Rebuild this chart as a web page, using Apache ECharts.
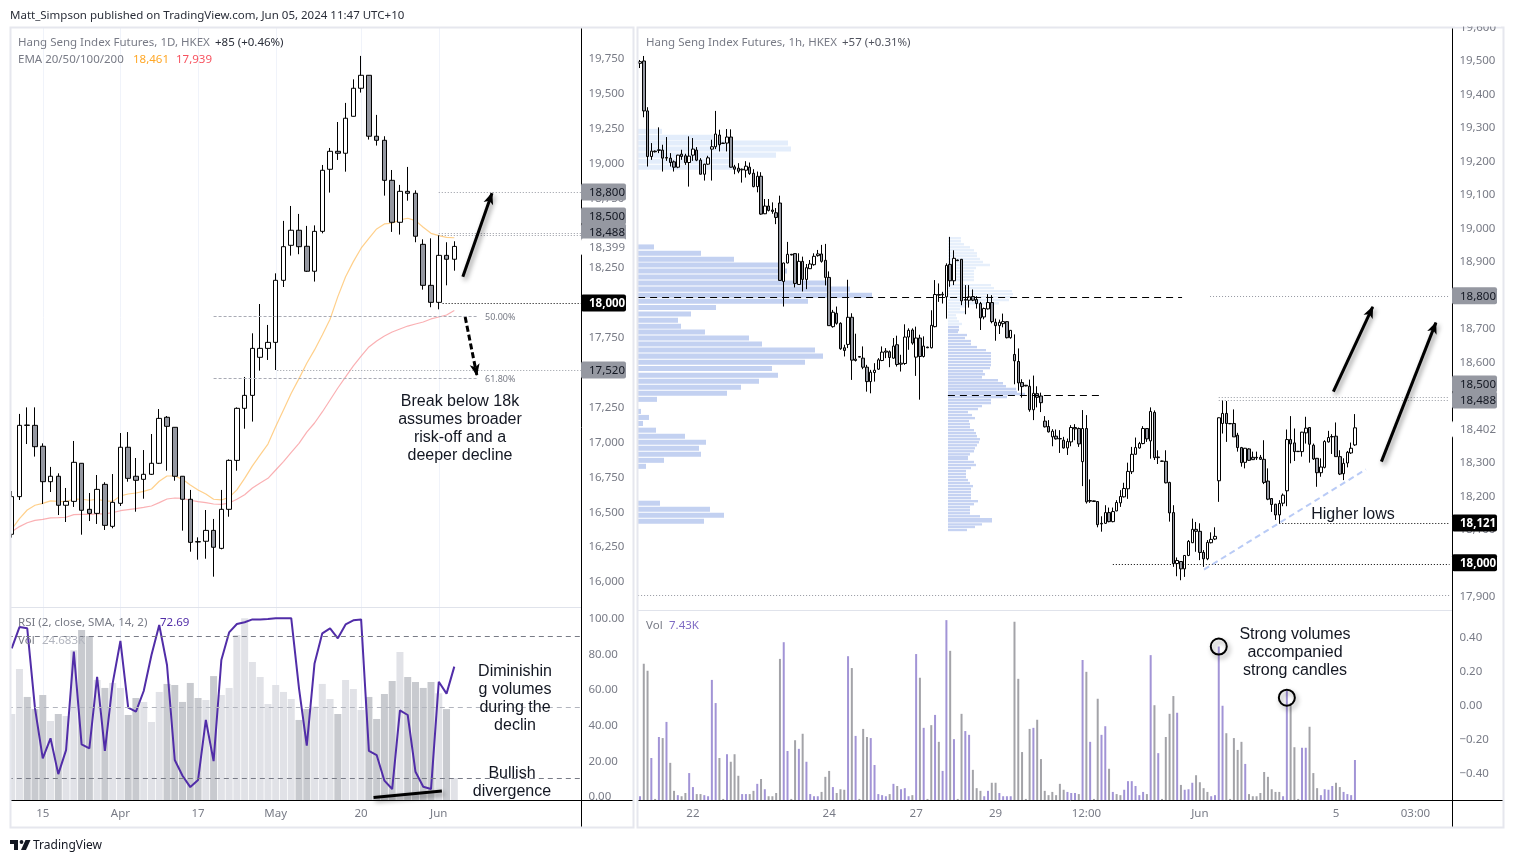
<!DOCTYPE html>
<html>
<head>
<meta charset="utf-8">
<title>Hang Seng Index Futures</title>
<script src="https://cdn.jsdelivr.net/npm/echarts@6/dist/echarts.min.js"></script>
<style>
  html, body { margin: 0; padding: 0; background: #fff; }
  #chart { width: 1514px; height: 863px; }
</style>
</head>
<body>
<div id="chart"></div>
<script>
// daily candles: open, close, low, high
const dailyCandles = [
  [16335,16605,16311,16645],[16605,17116,16581,17198],[17118,17116,16982,17245],[17116,16963,16892,17245],
  [16966,16712,16552,16987],[16712,16751,16638,16818],[16751,16543,16473,16772],[16543,16571,16423,16667],
  [16571,16851,16531,17004],[16844,16507,16332,16845],[16514,16485,16430,16631],[16485,16657,16409,16760],
  [16693,16399,16366,16708],[16392,16564,16378,16767],[16557,16959,16538,17061],[16959,16736,16712,17068],
  [16751,16722,16497,16882],[16729,16765,16590,16939],[16765,16844,16760,17054],[16844,17166,16839,17233],
  [17174,17109,16791,17183],[17102,16751,16719,17103],[16751,16586,16361,16752],[16586,16277,16210,16653],
  [16282,16280,16153,16313],[16285,16363,16160,16509],[16363,16242,16031,16445],[16234,16514,16227,16653],
  [16514,16865,16461,16872],[16865,17238,16791,17245],[17238,17331,17092,17463],[17331,17668,17143,17776],
  [17604,17668,17508,17986],[17668,17711,17585,17836],[17711,18156,17513,18206],[18156,18397,18108,18582],
  [18407,18515,18333,18689],[18515,18397,18343,18632],[18400,18221,18216,18546],[18221,18507,18147,18550],
  [18507,18945,18493,18983],[18952,19081,18785,19105],[19081,19067,19019,19291],[19067,19318,18935,19428],
  [19332,19533,19330,19597],[19533,19626,19502,19765],[19626,19189,19165,19627],[19189,19160,19122,19342],
  [19160,18873,18763,19189],[18873,18572,18503,18947],[18572,18794,18484,18840],[18794,18780,18727,18969],
  [18780,18472,18429,18801],[18414,18120,18089,18450],[18120,17998,17963,18457],[17998,18335,17948,18479],
  [18335,18307,18120,18429],[18307,18399,18225,18436]
];
const dailyEma20 = [
  16371,16447,16509,16543,16557,16574,16571,16569,16588,16586,16579,16586,16574,16571,16610,16624,16631,16643,16660,
  16715,16753,16753,16729,16688,16653,16624,16586,16581,16600,16653,16736,16825,16904,16982,17107,17226,17346,17451,
  17561,17657,17764,17877,18039,18182,18290,18386,18457,18524,18560,18565,18589,18601,18584,18536,18493,18476,18464,18461
];
const dailyEma50 = [
  16354,16390,16418,16435,16442,16452,16454,16457,16476,16478,16478,16481,16481,16490,16504,16512,16519,16528,16538,
  16562,16588,16595,16593,16579,16569,16562,16552,16550,16559,16586,16619,16667,16703,16736,16796,16856,16923,16987,
  17068,17133,17212,17298,17384,17463,17542,17613,17678,17721,17757,17785,17807,17828,17843,17857,17879,17893,17907,17939
];
const dailyRsi = [
  82.9,94.9,94.2,49.2,21.1,32.4,12.3,25.8,81.1,29.0,26.8,67.0,25.4,63.3,87.1,49.6,47.4,59.0,79.2,96.1,
  73.6,20.2,11.4,5.0,9.0,42.7,19.6,76.4,91.9,96.6,97.6,99.2,99.2,99.4,99.9,99.9,99.9,60.5,28.3,74.5,
  91.4,94.2,88.6,96.4,98.7,99.2,25.3,23.0,8.6,3.9,48.1,45.5,13.6,5.2,3.9,64.2,57.5,72.69
];
// daily volume, K
const dailyVolume = [
  96.5,147,115.6,102,117.8,88.6,96.5,94.2,168,190.7,184,134.6,125.7,131.3,125.7,95.4,114.4,110,87.5,121.2,
  130.2,129,110,131.3,114.4,112.2,139,117.8,125.7,185,204,154.8,138,107.7,129,121.2,113.3,89.8,102,104.7,
  130.2,113.3,96.5,134.6,124.5,101,115.6,90.9,118.9,133.5,166,138,132.4,125.7,132.4,119.7,102,24.683
];
const dailyTickIndex = [4, 14, 24, 34, 45, 55];
const dailyTickLabels = ["15", "Apr", "17", "May", "20", "Jun"];
const dailyPriceTicks = [16000,16250,16500,16750,17000,17250,17500,17750,18000,18250,18500,18750,19000,19250,19500,19750];
const rsiTicks = [0, 20, 40, 60, 80, 100];

// hourly candles: open, close, low, high
const hourCandles = [
  [19490,19495,19476,19500],[19497,19348,19329,19512],[19348,19212,19182,19359],[19212,19228,19202,19252],[19228,19226,19224,19230],
  [19230,19232,19222,19299],[19231,19207,19167,19247],[19207,19209,19199,19270],[19207,19194,19182,19222],[19196,19180,19167,19200],
  [19180,19216,19177,19217],[19219,19212,19202,19232],[19214,19194,19187,19220],[19194,19213,19122,19272],[19216,19234,19199,19267],
  [19231,19201,19198,19240],[19201,19159,19159,19207],[19159,19189,19140,19190],[19189,19208,19187,19214],[19234,19241,19140,19262],
  [19241,19279,19234,19348],[19276,19247,19227,19292],[19252,19251,19250,19253],[19252,19270,19227,19294],[19270,19180,19179,19293],
  [19181,19174,19159,19187],[19177,19168,19162,19192],[19172,19174,19134,19176],[19171,19183,19149,19198],[19180,19161,19157,19194],
  [19162,19122,19120,19174],[19122,19153,19105,19167],[19153,19040,19038,19165],[19041,19064,19040,19085],[19064,19051,19048,19085],
  [19052,19048,19041,19075],[19044,19030,19010,19058],[19073,18842,18842,19095],[18839,18894,18764,18895],[18894,18920,18893,18957],
  [18920,18918,18917,18921],[18922,18833,18821,18923],[18830,18899,18829,18923],[18899,18845,18809,18913],[18845,18880,18816,18891],
  [18877,18891,18876,18903],[18889,18914,18886,18923],[18916,18921,18913,18933],[18921,18899,18895,18948],[18902,18851,18827,18951],
  [18851,18707,18707,18869],[18704,18747,18701,18754],[18744,18714,18710,18764],[18714,18638,18635,18717],[18641,18633,18615,18650],
  [18651,18732,18640,18844],[18732,18604,18545,18744],[18603,18607,18600,18683],[18615,18613,18612,18616],[18610,18583,18577,18645],
  [18583,18540,18510,18590],[18540,18568,18505,18575],[18567,18574,18540,18595],[18577,18605,18575,18610],[18603,18628,18601,18645],
  [18628,18631,18610,18640],[18629,18612,18583,18633],[18610,18646,18608,18670],[18650,18591,18585,18677],[18592,18595,18570,18620],
  [18594,18673,18590,18711],[18673,18693,18635,18699],[18694,18655,18650,18699],[18613,18670,18557,18704],[18670,18615,18486,18680],
  [18615,18646,18612,18675],[18643,18641,18640,18644],[18641,18708,18639,18753],[18704,18800,18702,18843],[18800,18798,18778,18833],
  [18799,18801,18773,18808],[18793,18887,18728,18893],[18890,18841,18823,18972],[18841,18908,18828,18932],[18903,18901,18900,18904],
  [18905,18781,18768,18906],[18783,18785,18741,18828],[18783,18793,18761,18828],[18794,18783,18780,18815],[18785,18773,18758,18795],
  [18773,18730,18694,18778],[18733,18758,18726,18761],[18757,18776,18755,18801],[18776,18719,18714,18798],[18717,18707,18662,18728],
  [18707,18717,18682,18725],[18713,18719,18702,18743],[18719,18671,18669,18720],[18671,18693,18668,18694],[18621,18602,18532,18681],
  [18600,18536,18513,18639],[18537,18525,18492,18547],[18529,18527,18526,18530],[18526,18456,18450,18546],[18456,18505,18425,18558],
  [18504,18493,18463,18526],[18497,18477,18449,18507],[18422,18405,18403,18437],[18406,18390,18388,18425],[18375,18392,18347,18398],
  [18377,18369,18367,18397],[18369,18370,18327,18395],[18365,18342,18340,18375],[18342,18361,18321,18370],[18360,18403,18347,18410],
  [18403,18399,18365,18413],[18400,18354,18345,18403],[18301,18400,18228,18455],[18400,18181,18176,18440],[18183,18185,18178,18248],
  [18184,18182,18181,18185],[18182,18113,18105,18183],[18115,18117,18092,18138],[18117,18149,18115,18171],[18149,18122,18120,18164],
  [18122,18152,18120,18164],[18154,18179,18153,18186],[18178,18197,18166,18216],[18196,18221,18194,18238],[18220,18272,18190,18298],
  [18271,18323,18264,18345],[18323,18343,18322,18373],[18342,18355,18340,18360],[18355,18400,18353,18407],[18400,18369,18360,18401],
  [18363,18451,18310,18463],[18448,18313,18306,18454],[18313,18315,18294,18335],[18303,18302,18301,18304],[18302,18238,18236,18335],
  [18239,18148,18122,18241],[18149,17997,17987,18171],[17997,18006,17959,18015],[18003,17981,17947,18004],[17981,18021,17957,18022],
  [18021,18063,18019,18067],[18059,18099,18058,18131],[18099,18093,18032,18121],[18093,18030,18007,18117],[18030,18011,17987,18037],
  [18011,18060,18007,18067],[18059,18069,18057,18090],[18070,18078,18067,18105],[18244,18432,18181,18433],[18415,18445,18385,18485],
  [18445,18415,18360,18482],[18415,18414,18413,18416],[18415,18375,18375,18457],[18380,18343,18331,18387],[18343,18298,18286,18345],
  [18299,18341,18281,18342],[18339,18305,18303,18341],[18314,18307,18306,18331],[18314,18312,18306,18331],[18314,18308,18306,18321],
  [18308,18239,18234,18365],[18243,18189,18186,18281],[18191,18173,18151,18192],[18174,18142,18127,18175],[18142,18176,18117,18186],
  [18177,18201,18168,18206],[18214,18367,18168,18397],[18367,18354,18296,18437],[18357,18331,18303,18400],[18332,18331,18330,18333],
  [18331,18389,18316,18390],[18387,18401,18355,18435],[18403,18353,18298,18404],[18350,18309,18306,18355],[18311,18268,18226,18312],
  [18268,18285,18256,18311],[18284,18361,18281,18365],[18360,18373,18358,18393],[18376,18375,18324,18383],[18377,18316,18315,18418],
  [18316,18264,18261,18335],[18265,18296,18246,18311],[18297,18329,18284,18333],[18327,18341,18324,18358],[18351,18402,18348,18443]
];
// hourly volume, K
const hourVolume = [
  0.7,25.3,24.0,7.8,0.2,11.7,11.5,14.5,6.9,1.7, 0.9,0.7,1.3,5.0,2.4,1.1,1.1,0.9,0.7,22.3,
  18.0,7.8,0.2,8.5,7.1,8.5,4.5,1.1,1.1,1.1, 1.7,3.0,3.9,2.0,0.7,0.7,1.3,26.2,29.3,9.1,
  0.2,11.1,9.5,12.3,7.1,1.1,0.7,0.7,1.5,4.3, 5.4,2.4,1.3,2.0,1.9,26.7,24.5,11.9,0.2,13.2,
  11.7,11.5,6.5,1.1,0.9,0.7,1.1,3.0,2.6,2.0, 2.2,0.7,0.9,27.1,22.7,13.4,0.2,13.9,15.8,10.8,
  5.4,33.4,27.7,11.3,0.2,16.0,12.8,12.1,5.6,2.2, 1.7,0.7,1.7,3.2,3.2,1.3,0.7,0.7,0.7,33.1,
  22.5,8.9,0.2,13.2,13.4,14.9,7.6,1.7,0.9,1.5, 0.9,3.0,1.9,1.5,1.3,1.3,
  1.1,26.0,23.8,10.8,0.2,18.8,12.1,13.7,5.8,1.5, 1.1,0.9,1.9,3.5,3.5,2.6,0.9,1.5,1.1,26.9,
  17.6,8.7,0.2,11.7,16.0,19.3,16.2,2.8,1.9,2.0, 3.2,4.6,3.3,2.2,1.5,0.7,0.9,28.5,17.5,12.4,
  0.2,11.5,9.3,10.8,6.7,1.1,0.7,0.7,1.3,5.2, 4.3,2.0,1.5,1.5,0.7,20.3,18.0,9.8,0.2,9.7,
  9.7,13.6,5.0,2.2,0.9,2.0,1.9,2.6,3.2,2.4, 1.5,1.1,0.9,7.43
];
// p = purple volume bar, g = grey volume bar
const hourVolumeTone =
  "pggpgpgpgg" + "pggppggppp" + "pggpgggppg" + "gpgpggggpp" + "ggpgppppgg" + "gpgggpgpgg" +
  "gpppppgpgp" + "ppgpgpggpg" + "ppgpggppgg" + "gppggppppg" + "ggggpggggg" + "gggppp" +
  "gpgpggppgp" + "ggppppppgp" + "gpggggpgpp" + "pggggppppg" + "ggggpggggg" + "ggggppgggp" + "pgggppppgg" + "pppp";
const hourTickIndex = [14, 50, 73, 94, 118, 148, 184, 205];
const hourTickLabels = ["22", "24", "27", "29", "12:00", "Jun", "5", "03:00"];
const hourPriceTicks = [17900,18000,18100,18200,18300,18400,18500,18600,18700,18800,18900,19000,19100,19200,19300,19400,19500];
const emptyPaneTicks = [-0.4, -0.2, 0, 0.2, 0.4];

// volume profiles: price, relative volume
const profileOneValueArea = [
  [18942,48],[18923,189],[18905,288],[18888,424],[18870,447],[18852,440],[18834,579],[18816,636],[18798,702],[18780,510],
  [18761,234],[18742,159],[18723,120],[18705,129],[18688,201],[18670,333],[18652,372],[18634,531],[18616,555],[18598,501],
  [18579,402],[18559,420],[18541,363],[18523,309],[18505,267],[18487,57],[18451,9],[18433,33],[18415,15],[18395,54],
  [18377,141],[18359,204],[18341,183],[18323,189],[18305,78],[18287,24],[18177,66],[18159,216],[18141,258],[18123,198]
];
const profileOneOutside = [[19287,72],[19269,234],[19252,450],[19234,459],[19216,414],[19198,289],[19180,284]];
const profileTwoValueArea = [
  [18703,33],[18694,33],[18688,30],[18679,57],[18670,51],[18661,69],[18652,69],[18643,87],[18634,114],[18625,129],
  [18616,129],[18607,129],[18598,129],[18589,129],[18580,126],[18571,105],[18562,111],[18553,102],[18544,150],[18535,165],
  [18526,174],[18518,204],[18509,207],[18503,231],[18494,177],[18485,129],[18476,129],[18467,102],[18458,90],[18449,60],
  [18440,72],[18431,81],[18422,63],[18413,66],[18404,66],[18395,78],[18386,84],[18377,87],[18368,96],[18359,93],
  [18350,87],[18341,81],[18332,78],[18323,66],[18315,60],[18309,60],[18300,78],[18291,84],[18282,69],[18273,54],
  [18264,54],[18255,54],[18246,60],[18237,66],[18228,75],[18219,69],[18210,69],[18201,69],[18192,69],[18183,90],
  [18174,78],[18165,66],[18156,66],[18147,66],[18138,96],[18129,132],[18123,132],[18114,102],[18106,81],[18097,57]
];
const profileTwoOutside = [
  [18968,39],[18959,39],[18950,48],[18941,66],[18932,78],[18923,87],[18915,87],[18906,96],[18897,105],[18888,126],
  [18879,84],[18870,78],[18861,78],[18852,78],[18843,78],[18828,129],[18819,138],[18810,192],[18801,195],[18792,192],
  [18783,183],[18774,153],[18765,51],[18756,36],[18747,51],[18738,24],[18729,27],[18720,33],[18712,42]
];

// drawn levels and arrows: bar from, price from, bar to, price to
const dailyGreyLevels = [[55,18789,73.3,18789],[55,18493,73.3,18493],[55,18481,73.3,18481],[34.2,17513,73.3,17513]];
const dailyBlackLevels = [[55.5,17993,73.3,17993]];
const dailyFibLevels = [[26,17900,60,17900],[26,17456,60,17456]];
const dailyUpArrow = [[58.1,18182,61.85,18780]];
const dailyDownArrow = [[58.4,17893,59.9,17477]];
const rsiDivergence = [[46.6,-0.8,55.4,2.8]];
const hourDashedLevels = [[-0.5,18794,143.3,18794],[81.4,18499,122.4,18499]];
const hourGreyLevels = [[150.7,18795,214,18795],[153,18495,214,18495],[153,18485,214,18485],[-0.5,17902,214,17902]];
const hourBlackLevels = [[169,18117,214,18117],[125,17997,214,17997]];
const hourTrendLine = [[149.1,17979,191.9,18278]];
const hourArrows = [[183.3,18510,193.7,18763],[196,18301,210.4,18716]];

// price tags on the axes: price, text, look
const dailyTags = [
  [18789,"18,800","grey"],[18617,"18,500","grey"],[18502,"18,488","grey"],[18395,"18,399","plain"],
  [17993,"18,000","black"],[17513,"17,520","grey"]
];
const hourTags = [
  [18796,"18,800","grey"],[18533,"18,500","grey"],[18485,"18,488","grey"],[18398,"18,402","plain"],
  [18118,"18,121","black"],[17999,"18,000","black"]
];

const UI_FONT = '"Noto Sans", sans-serif';
const NOTE_FONT = '"Liberation Sans", Arial, sans-serif';
const GREY_TEXT = "#787b86";

const dailyBarCount = 74;
const hourBarCount = 215;

function axisCategories(count, indexes, labels) {
  const names = new Array(count).fill("");
  indexes.forEach(function (at, i) {
    names[at] = labels[i];
  });
  return names;
}

function categoryAxis(gridIndex, names, showLabel) {
  return {
    type: "category",
    gridIndex: gridIndex,
    data: names,
    axisLine: { show: false },
    axisTick: { show: false },
    splitLine: { show: false },
    axisLabel: {
      show: showLabel,
      interval: 0,
      margin: 8,
      color: GREY_TEXT,
      fontFamily: UI_FONT,
      fontSize: 11.5,
    },
  };
}

function barIndexAxis(gridIndex, count) {
  return { type: "value", gridIndex: gridIndex, min: -0.5, max: count - 0.5, show: false };
}

function hiddenAxis(gridIndex, min, max) {
  return { type: "value", gridIndex: gridIndex, min: min, max: max, show: false };
}

function labelledAxis(gridIndex, min, max, ticks, margin, formatter) {
  return {
    type: "value",
    gridIndex: gridIndex,
    position: "right",
    min: min,
    max: max,
    axisLine: { show: false },
    axisTick: { show: false },
    splitLine: { show: false },
    axisLabel: {
      customValues: ticks,
      margin: margin,
      color: GREY_TEXT,
      fontFamily: UI_FONT,
      fontSize: 11.5,
      // the padded rich box sets the text one pixel lower
      rich: { tick: { padding: [2, 0, 0, 0], color: GREY_TEXT, fontFamily: UI_FONT, fontSize: 11.5 } },
      formatter: function (value) {
        return "{tick|" + formatter(value) + "}";
      },
    },
  };
}

function priceText(value) {
  return Number(value).toLocaleString("en-US");
}

// straight pieces between two chart positions, with an optional arrow head
function segmentSeries(rows, xAxisIndex, yAxisIndex, lineStyle, z, withHead) {
  return {
    type: "custom",
    xAxisIndex: xAxisIndex,
    yAxisIndex: yAxisIndex,
    clip: false,
    silent: true,
    z: z,
    data: rows,
    encode: { x: [0, 2], y: [1, 3] },
    renderItem: function (params, api) {
      const a = api.coord([api.value(0), api.value(1)]);
      const b = api.coord([api.value(2), api.value(3)]);
      // keep flat and upright lines on one pixel row
      if (a[1] === b[1]) {
        a[1] = b[1] = Math.round(a[1]) + 0.5;
      }
      if (a[0] === b[0]) {
        a[0] = b[0] = Math.round(a[0]) + 0.5;
      }
      const children = [
        {
          type: "line",
          shape: { x1: a[0], y1: a[1], x2: b[0], y2: b[1] },
          style: Object.assign({ fill: null }, lineStyle),
        },
      ];
      if (withHead) {
        const angle = Math.atan2(b[1] - a[1], b[0] - a[0]);
        const point = function (back, side) {
          return [
            b[0] - back * Math.cos(angle) - side * Math.sin(angle),
            b[1] - back * Math.sin(angle) + side * Math.cos(angle),
          ];
        };
        children.push({
          type: "polygon",
          shape: { points: [point(-1, 0), point(11, 5), point(8, 0), point(11, -5)] },
          style: { fill: "#000" },
        });
      }
      return { type: "group", children: children };
    },
  };
}

function tagSeries(rows, xAxisIndex, yAxisIndex, barEnd, tagLeft, tagWidth) {
  const looks = {
    grey: { fill: "#9598a1", text: "#131722", weight: "normal" },
    black: { fill: "#000", text: "#fff", weight: "bold" },
    plain: { fill: "#fff", text: GREY_TEXT, weight: "normal" },
  };
  return {
    type: "custom",
    xAxisIndex: xAxisIndex,
    yAxisIndex: yAxisIndex,
    clip: false,
    silent: true,
    z: 10,
    data: rows.map(function (row) {
      return [barEnd, row[0]];
    }),
    encode: { x: 0, y: 1 },
    renderItem: function (params, api) {
      const at = api.coord([api.value(0), api.value(1)]);
      const look = looks[rows[params.dataIndex][2]];
      return {
        type: "group",
        children: [
          {
            type: "rect",
            shape: { x: tagLeft, y: at[1] - 8.5, width: tagWidth, height: 17, r: 2 },
            style: { fill: look.fill },
          },
          {
            type: "text",
            style: {
              x: tagLeft + 8,
              y: at[1] + 1,
              text: rows[params.dataIndex][1],
              fill: look.text,
              font: look.weight + " 11.5px " + UI_FONT,
              verticalAlign: "middle",
            },
          },
        ],
      };
    },
  };
}

function profileSeries(rows, xAxisIndex, yAxisIndex, color, rowSpan) {
  return {
    type: "custom",
    xAxisIndex: xAxisIndex,
    yAxisIndex: yAxisIndex,
    silent: true,
    z: 1,
    data: rows.map(function (row) {
      return [row[1], row[0]];
    }),
    encode: { x: 0, y: 1 },
    renderItem: function (params, api) {
      const start = api.coord([0, api.value(1) + rowSpan / 2]);
      const end = api.coord([api.value(0), api.value(1) - rowSpan / 2]);
      return {
        type: "rect",
        shape: { x: start[0], y: start[1], width: end[0] - start[0], height: end[1] - start[1] },
        style: { fill: color },
      };
    },
  };
}

function candleSeries(data, xAxisIndex, yAxisIndex, barWidth) {
  return {
    type: "candlestick",
    xAxisIndex: xAxisIndex,
    yAxisIndex: yAxisIndex,
    barWidth: barWidth,
    z: 3,
    itemStyle: {
      color: "#fff",
      color0: "#9598a1",
      borderColor: "#000",
      borderColor0: "#000",
      borderColorDoji: "#000",
      borderWidth: 1,
    },
    data: data,
  };
}

function emaSeries(data, color) {
  return {
    type: "line",
    xAxisIndex: 0,
    yAxisIndex: 0,
    data: data,
    symbol: "none",
    z: 2,
    lineStyle: { color: color, width: 1.2 },
  };
}

function label(text, x, y, fill, font, align) {
  return {
    type: "text",
    z: 30,
    silent: true,
    style: {
      x: x,
      y: y + 1,
      text: text,
      fill: fill,
      font: font || "11.5px " + UI_FONT,
      align: align || "left",
      verticalAlign: "middle",
    },
  };
}

function note(lines, x, firstY) {
  return lines.map(function (line, i) {
    return label(line, x, firstY + 1 + i * 18, "#131722", "16px " + NOTE_FONT, "center");
  });
}

function rule(x1, y1, x2, y2, color, width) {
  return {
    type: "line",
    z: 5,
    silent: true,
    shape: { x1: x1, y1: y1, x2: x2, y2: y2 },
    style: { stroke: color, lineWidth: width || 1 },
  };
}

const GREY_DOTS = { stroke: "#9598a1", lineWidth: 1, lineDash: [1, 2] };
const BLACK_DOTS = { stroke: "#000", lineWidth: 1, lineDash: [1, 2] };
const ARROW_SHADOW = { shadowBlur: 5, shadowColor: "rgba(0,0,0,0.45)", shadowOffsetX: 2, shadowOffsetY: 3 };

const dailyTickRows = dailyTickIndex.map(function (at) {
  return [at, 15813, at, 19965];
});
const lowerTickRows = dailyTickIndex.map(function (at) {
  return [at, -2.25, at, 106.18];
});

const option = {
  animation: false,
  backgroundColor: "#fff",
  grid: [
    { left: 7.82, top: 28, width: 574.6, height: 579 },
    { left: 7.82, top: 607, width: 574.6, height: 193 },
    { left: 638.1, top: 28, width: 813.3, height: 582 },
    { left: 638.1, top: 610, width: 813.3, height: 190 },
    { left: 638, top: 28, width: 300, height: 582 },
    { left: 948, top: 28, width: 300, height: 582 },
  ],
  xAxis: [
    categoryAxis(0, axisCategories(dailyBarCount, [], []), false),
    barIndexAxis(0, dailyBarCount),
    categoryAxis(1, axisCategories(dailyBarCount, dailyTickIndex, dailyTickLabels), true),
    barIndexAxis(1, dailyBarCount),
    categoryAxis(2, axisCategories(hourBarCount, [], []), false),
    barIndexAxis(2, hourBarCount),
    categoryAxis(3, axisCategories(hourBarCount, hourTickIndex, hourTickLabels), true),
    hiddenAxis(4, 0, 900),
    hiddenAxis(5, 0, 900),
  ],
  yAxis: [
    labelledAxis(0, 15813.6, 19965.1, dailyPriceTicks, 6, priceText),
    labelledAxis(1, -2.25, 106.18, rsiTicks, 6, function (value) {
      return Number(value).toFixed(2);
    }),
    hiddenAxis(1, 0, 216.5),
    labelledAxis(2, 17858.2, 19595.5, hourPriceTicks, 8, priceText),
    hiddenAxis(3, 0, 35.28),
    labelledAxis(3, -0.559, 0.559, emptyPaneTicks, 8, function (value) {
      return Number(value).toFixed(2).replace("-", "\u2212");
    }),
    hiddenAxis(4, 17858.2, 19595.5),
    hiddenAxis(5, 17858.2, 19595.5),
  ],
  series: [
    // left pane
    segmentSeries(dailyTickRows, 1, 0, { stroke: "#f0f3fa", lineWidth: 1 }, 1),
    emaSeries(dailyEma20, "rgba(255,183,77,0.65)"),
    emaSeries(dailyEma50, "rgba(247,124,128,0.6)"),
    candleSeries(dailyCandles, 0, 0, 5),
    segmentSeries(dailyGreyLevels, 1, 0, GREY_DOTS, 4),
    segmentSeries(dailyBlackLevels, 1, 0, BLACK_DOTS, 4),
    segmentSeries(dailyFibLevels, 1, 0, { stroke: "#a9abb5", lineWidth: 1, lineDash: [3, 2] }, 4),
    segmentSeries(dailyUpArrow, 1, 0, Object.assign({ stroke: "#000", lineWidth: 3 }, ARROW_SHADOW), 6, true),
    segmentSeries(dailyDownArrow, 1, 0, { stroke: "#000", lineWidth: 3, lineDash: [6, 3] }, 6, true),
    tagSeries(dailyTags, 1, 0, 73, 581, 45),
    // left lower pane
    segmentSeries(lowerTickRows, 3, 1, { stroke: "#f0f3fa", lineWidth: 1 }, 1),
    {
      type: "bar",
      xAxisIndex: 2,
      yAxisIndex: 2,
      barWidth: 7,
      z: 2,
      data: dailyVolume.map(function (value, i) {
        const up = dailyCandles[i][1] > dailyCandles[i][0];
        return { value: value, itemStyle: { color: up ? "#e1e2e7" : "#c8cacf" } };
      }),
    },
    {
      type: "line",
      xAxisIndex: 2,
      yAxisIndex: 1,
      data: dailyRsi,
      symbol: "none",
      z: 4,
      lineStyle: { color: "#512da8", width: 2 },
      markLine: {
        silent: true,
        symbol: ["none", "none"],
        label: { show: false },
        lineStyle: { color: "#787b86", type: [5, 4], width: 1 },
        data: [
          { yAxis: 90 },
          { yAxis: 50, lineStyle: { color: "#b2b5be", type: [5, 4], width: 1 } },
          { yAxis: 10 },
        ],
      },
    },
    segmentSeries(rsiDivergence, 3, 1, Object.assign({ stroke: "#000", lineWidth: 3 }, ARROW_SHADOW), 6),
    // right pane
    profileSeries(profileOneOutside, 7, 6, "#e3edfb", 15),
    profileSeries(profileOneValueArea, 7, 6, "#c3d1f1", 15),
    profileSeries(profileTwoOutside, 8, 7, "#e6effb", 7),
    profileSeries(profileTwoValueArea, 8, 7, "#c5d2f2", 7),
    candleSeries(hourCandles, 4, 3, 3),
    segmentSeries(hourDashedLevels, 5, 3, { stroke: "#000", lineWidth: 1, lineDash: [7, 5] }, 4),
    segmentSeries(hourGreyLevels, 5, 3, GREY_DOTS, 4),
    segmentSeries(hourBlackLevels, 5, 3, BLACK_DOTS, 4),
    segmentSeries(hourTrendLine, 5, 3, { stroke: "#b9cbf6", lineWidth: 2, lineDash: [6, 4] }, 4),
    segmentSeries(hourArrows, 5, 3, Object.assign({ stroke: "#000", lineWidth: 3 }, ARROW_SHADOW), 6, true),
    tagSeries(hourTags, 5, 3, 214, 1452, 45),
    // right lower pane
    {
      type: "bar",
      xAxisIndex: 6,
      yAxisIndex: 4,
      barWidth: 2,
      z: 2,
      data: hourVolume.map(function (value, i) {
        return { value: value, itemStyle: { color: hourVolumeTone[i] === "p" ? "#a294d6" : "#a3a3a8" } };
      }),
      markPoint: {
        silent: true,
        symbol: "circle",
        symbolSize: 16,
        label: { show: false },
        itemStyle: {
          color: "transparent",
          borderColor: "#000",
          borderWidth: 2,
          shadowBlur: 5,
          shadowColor: "rgba(0,0,0,0.4)",
          shadowOffsetX: 2,
          shadowOffsetY: 3,
        },
        data: [{ coord: [153, 28.5] }, { coord: [171, 19.0] }],
      },
    },
  ],
  graphic: {
    elements: [
      // frame
      { type: "rect", z: 20, silent: true, shape: { x: 0, y: 28, width: 10, height: 800 }, style: { fill: "#fff" } },
      { type: "rect", z: 21, silent: true, shape: { x: 10.5, y: 27.5, width: 623, height: 800 }, style: { fill: null, stroke: "#e6e7ee", lineWidth: 2 } },
      { type: "rect", z: 21, silent: true, shape: { x: 637.5, y: 27.5, width: 866, height: 800 }, style: { fill: null, stroke: "#e6e7ee", lineWidth: 2 } },
      rule(11, 607.5, 581, 607.5, "#e0e3eb"),
      rule(638, 610.5, 1452, 610.5, "#e0e3eb"),
      rule(11, 800.5, 633, 800.5, "#000"),
      rule(638, 800.5, 1503, 800.5, "#000"),
      rule(581.5, 28, 581.5, 827, "#000"),
      rule(1452.5, 28, 1452.5, 827, "#000"),
      // header and footer
      label("Matt_Simpson published on TradingView.com, Jun 05, 2024 11:47 UTC+10", 10, 15, "#2a2e39"),
      { type: "polygon", z: 30, silent: true, shape: { points: [[10,840],[18,840],[18,850],[14,850],[14,844],[10,844]] }, style: { fill: "#131722" } },
      { type: "circle", z: 30, silent: true, shape: { cx: 21.5, cy: 842, r: 1.9 }, style: { fill: "#131722" } },
      { type: "polygon", z: 30, silent: true, shape: { points: [[25.5,840],[30.5,840],[26,850],[21,850]] }, style: { fill: "#131722" } },
      label("TradingView", 33, 845, "#131722", "12px " + UI_FONT),
      // legends
      label("Hang Seng Index Futures, 1D, HKEX", 18, 42, GREY_TEXT),
      label("+85 (+0.46%)", 215, 42, "#2a2e39"),
      label("EMA 20/50/100/200", 18, 59, GREY_TEXT),
      label("18,461", 133, 59, "#ffa726"),
      label("17,939", 176, 59, "#f7525f"),
      label("RSI (2, close, SMA, 14, 2)", 18, 622, GREY_TEXT),
      label("72.69", 160, 622, "#512da8"),
      label("Vol", 18, 640, GREY_TEXT),
      label("24.683K", 42, 640, "#b2b5be"),
      label("Hang Seng Index Futures, 1h, HKEX", 646, 42, GREY_TEXT),
      label("+57 (+0.31%)", 842, 42, "#50535e"),
      label("Vol", 646, 625, GREY_TEXT),
      label("7.43K", 669, 625, "#7e6bc4"),
      // the top price of the right axis, half cut by the frame
      label("19,600", 1460, 27, GREY_TEXT),
      { type: "rect", z: 31, silent: true, shape: { x: 1455, y: 18, width: 46, height: 8.5 }, style: { fill: "#fff" } },
      // fib labels
      label("50.00%", 485, 316, GREY_TEXT, "9px " + UI_FONT),
      label("61.80%", 485, 378, GREY_TEXT, "9px " + UI_FONT),
    ]
      .concat(note(["Break below 18k", "assumes broader", "risk-off and a", "deeper decline"], 460, 400))
      .concat(note(["Diminishin", "g volumes", "during the", "declin"], 515, 670))
      .concat(note(["Bullish", "divergence"], 512, 772))
      .concat(note(["Higher lows"], 1353, 513))
      .concat(note(["Strong volumes", "accompanied", "strong candles"], 1295, 633)),
  },
};

document.addEventListener("DOMContentLoaded", function () {
  const chart = echarts.init(document.getElementById("chart"));
  chart.setOption(option);
});
</script>
</body>
</html>
